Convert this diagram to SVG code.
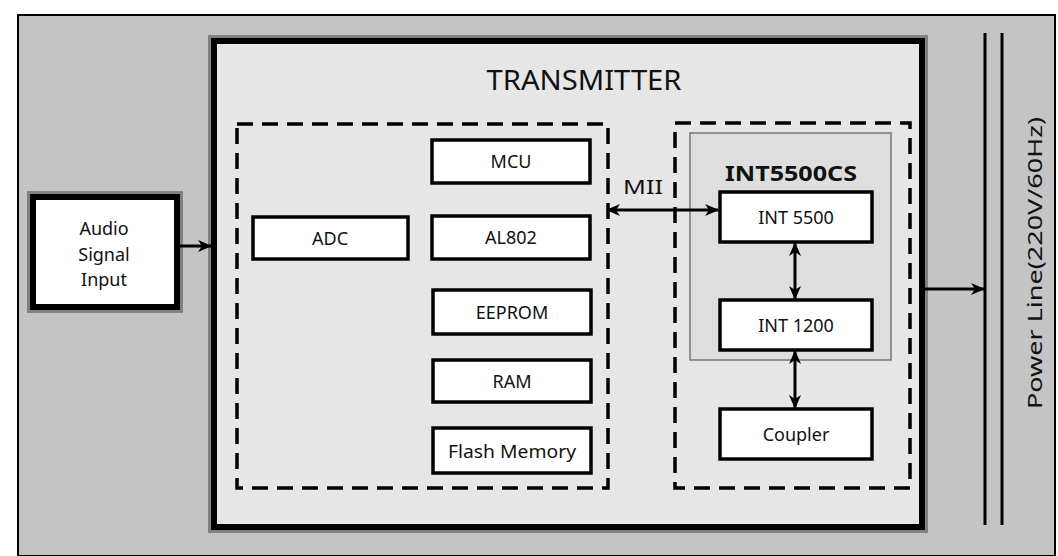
<svg xmlns="http://www.w3.org/2000/svg" width="1058" height="556" viewBox="0 0 1058 556">
<defs>
<style>
.box{fill:#ffffff;stroke:#000;stroke-width:3.5}
.lbl{font-family:"Noto Sans","Open Sans",sans-serif;font-size:18px;fill:#111;text-anchor:middle;dominant-baseline:central}
.dash{fill:none;stroke:#000;stroke-width:3.5;stroke-dasharray:16 9}
.conn{stroke:#000;stroke-width:3;fill:none}
.shadow{fill:none;stroke:#555;stroke-width:12;stroke-opacity:0.6}
</style>
<marker id="ah" markerUnits="userSpaceOnUse" markerWidth="14" markerHeight="14" viewBox="0 0 14 14" refX="13" refY="7" orient="auto-start-reverse">
<path d="M0,1 L14,7 L0,13 L4,7 Z" fill="#000"/>
</marker>
</defs>
<rect x="0" y="0" width="1058" height="556" fill="#ffffff"/>
<g id="page">
<rect x="18" y="15" width="1037" height="541" fill="#c4c4c4" stroke="#000" stroke-width="2"/>
</g>
<g id="transmitter">
<rect x="214" y="41" width="708" height="486" class="shadow"/>
<rect x="214" y="41" width="708" height="486" fill="#e6e6e6" stroke="#000" stroke-width="6"/>
<text x="584" y="79" class="lbl" textLength="195" lengthAdjust="spacingAndGlyphs" style="font-size:28px">TRANSMITTER</text>
</g>
<g id="left-group">
<rect x="237" y="124" width="371" height="364" class="dash"/>
</g>
<g id="right-group">
<rect x="675" y="123" width="235" height="365" class="dash"/>
</g>
<g id="int5500cs">
<rect x="690" y="133" width="201" height="227" fill="#dedede" stroke="#777" stroke-width="1.5"/>
<text x="791" y="172" class="lbl" style="font-size:22px;font-weight:bold" textLength="132" lengthAdjust="spacingAndGlyphs">INT5500CS</text>
</g>
<g id="audio">
<rect x="33" y="197" width="144" height="110" class="shadow"/>
<rect x="33" y="197" width="144" height="110" fill="#fff" stroke="#000" stroke-width="6"/>
<text x="104" y="228" class="lbl">Audio</text>
<text x="104" y="254" class="lbl">Signal</text>
<text x="104" y="279" class="lbl">Input</text>
</g>
<g id="adc"><rect x="253" y="217" width="155" height="42" class="box"/><text x="330" y="238" class="lbl">ADC</text></g>
<g id="mcu"><rect x="432" y="140" width="158" height="43" class="box"/><text x="511" y="161" class="lbl">MCU</text></g>
<g id="al802"><rect x="432" y="216" width="158" height="43" class="box"/><text x="511" y="237" class="lbl">AL802</text></g>
<g id="eeprom"><rect x="433" y="290" width="158" height="44" class="box"/><text x="512" y="312" class="lbl">EEPROM</text></g>
<g id="ram"><rect x="433" y="360" width="158" height="42" class="box"/><text x="512" y="381" class="lbl">RAM</text></g>
<g id="flash"><rect x="433" y="428" width="158" height="45" class="box"/><text x="512" y="451" class="lbl" textLength="128" lengthAdjust="spacingAndGlyphs">Flash Memory</text></g>
<g id="int5500"><rect x="720" y="192" width="152" height="50" class="box"/><text x="796" y="217" class="lbl">INT 5500</text></g>
<g id="int1200"><rect x="720" y="300" width="152" height="50" class="box"/><text x="796" y="325" class="lbl">INT 1200</text></g>
<g id="coupler"><rect x="720" y="409" width="152" height="50" class="box"/><text x="796" y="434" class="lbl">Coupler</text></g>
<g id="powerline">
<line x1="985" y1="33" x2="985" y2="525" stroke="#000" stroke-width="3"/>
<line x1="1002" y1="33" x2="1002" y2="525" stroke="#000" stroke-width="3"/>
<text x="0" y="0" class="lbl" transform="translate(1034,263) rotate(-90)" style="font-size:20px" textLength="292" lengthAdjust="spacingAndGlyphs">Power Line(220V/60Hz)</text>
</g>
<g id="connectors">
<line x1="178" y1="246" x2="211" y2="246" class="conn" marker-end="url(#ah)"/>
<line x1="607" y1="210" x2="718" y2="210" class="conn" marker-start="url(#ah)" marker-end="url(#ah)"/>
<text x="643" y="186" class="lbl" style="font-size:20px" textLength="40" lengthAdjust="spacingAndGlyphs">MII</text>
<line x1="795" y1="243" x2="795" y2="299" class="conn" marker-start="url(#ah)" marker-end="url(#ah)"/>
<line x1="795" y1="351" x2="795" y2="408" class="conn" marker-start="url(#ah)" marker-end="url(#ah)"/>
<line x1="925" y1="289" x2="984" y2="289" class="conn" marker-end="url(#ah)"/>
</g>
</svg>
